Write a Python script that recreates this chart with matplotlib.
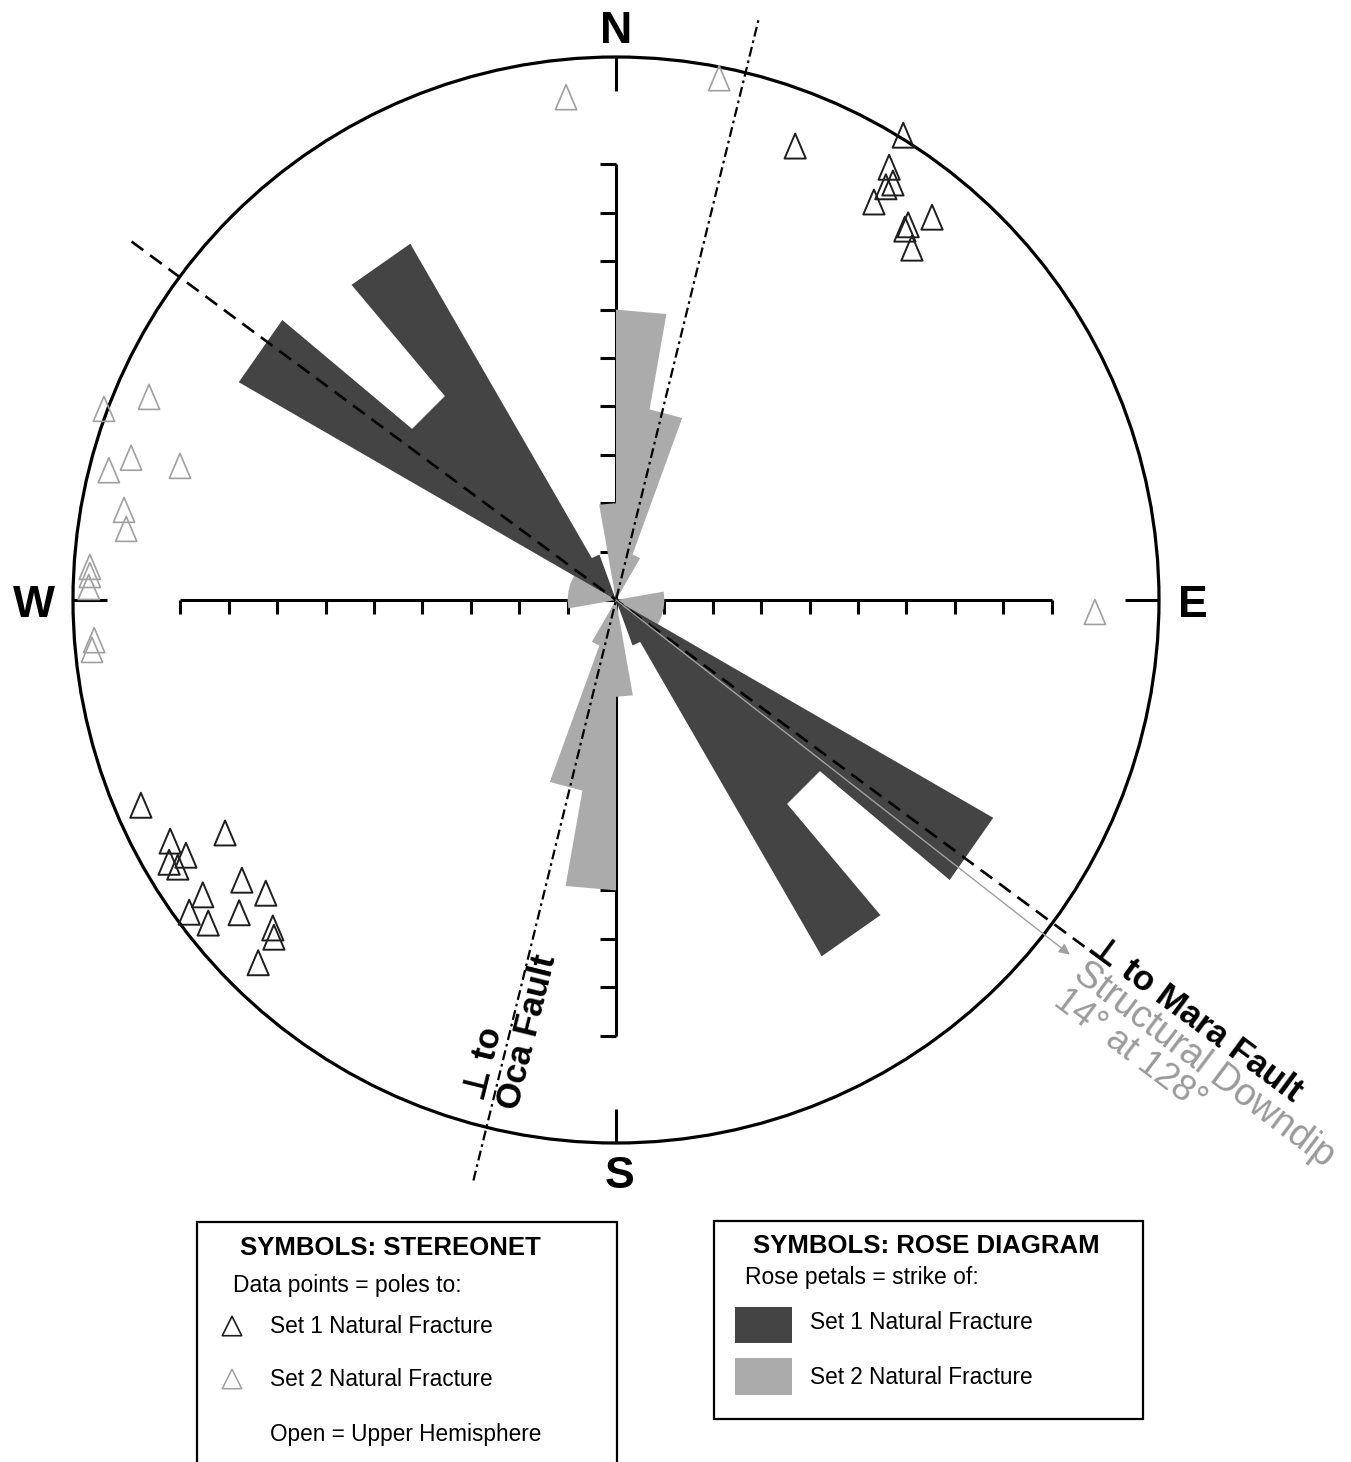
import numpy as np
import matplotlib
matplotlib.use("Agg")
import matplotlib.pyplot as plt
from matplotlib.patches import Polygon, Circle, Rectangle
from matplotlib.path import Path

plt.rcParams['font.family'] = ['Liberation Sans', 'DejaVu Sans']

# ---------------- data ----------------
# rose diagram: 10-degree strike bins (bidirectional), petal length in rose units
bin_start = np.arange(0, 180, 10)
set1_petals = [0, 0, 0, 0, 0, 0, 0, 0, 0, 0, 0, 0, 9, 5.5, 8.5, 1, 0, 0]
set2_petals = [6, 4, 1, 0, 0, 0, 0, 0, 1, 1, 1, 1, 0, 0, 0, 0, 0, 2]
bin_width = 10

# stereonet poles (east, north) as fraction of net radius
set1_east = [0.330, 0.529, 0.503, 0.510, 0.497, 0.475, 0.582, 0.538, 0.532, 0.545,
             -0.875, -0.720, -0.821, -0.792, -0.823, -0.807, -0.689, -0.761, -0.645,
             -0.786, -0.751, -0.694, -0.632, -0.630, -0.659]
set1_north = [0.836, 0.856, 0.797, 0.768, 0.761, 0.733, 0.705, 0.691, 0.683, 0.648,
              -0.378, -0.429, -0.444, -0.470, -0.483, -0.492, -0.516, -0.543, -0.540,
              -0.575, -0.595, -0.576, -0.604, -0.621, -0.668]
set2_east = [-0.092, 0.190, 0.882, -0.943, -0.860, -0.893, -0.934, -0.803, -0.906,
             -0.902, -0.969, -0.969, -0.971, -0.961, -0.965]
set2_north = [0.926, 0.961, -0.022, 0.352, 0.374, 0.262, 0.239, 0.247, 0.166,
              0.131, 0.061, 0.046, 0.024, -0.074, -0.092]

axis_ticks = [t for t in range(-9, 10) if t != 0]
cardinals = {'N': 0, 'E': 90, 'S': 180, 'W': 270}
mara_azimuth = 126.5
oca_azimuth = 13.8
downdip_azimuth = 128
downdip_plunge = 14

# ---------------- layout ----------------
W, H = 1351, 1462
CX, CY = 616, 600          # pixel position of net centre
PX = 48.4                  # pixels per rose unit
R = 543 / PX               # net radius in rose units
DARK = '#444444'
LIGHT = '#ababab'
GRAYTXT = '#9a9a9a'

fig = plt.figure(figsize=(W / 100, H / 100), dpi=100)
ax = fig.add_axes([0, 0, 1, 1])
ax.set_xlim(-CX / PX, (W - CX) / PX)
ax.set_ylim(-(H - CY) / PX, CY / PX)
ax.axis('off')


def P(x, y):
    return (x - CX) / PX, (CY - y) / PX


def unit(az):
    a = np.radians(az)
    return np.sin(a), np.cos(a)


# net circle
ax.add_patch(Circle((0, 0), R, fill=False, lw=2.3, ec='black', zorder=2))

# cardinal stubs and labels
for lab, az in cardinals.items():
    ux, uy = unit(az)
    ax.plot([ux * R, ux * (R - 0.7)], [uy * R, uy * (R - 0.7)], color='black',
            lw=2.2, solid_capstyle='butt', zorder=2)
lab_pos = {'N': (616, 43), 'E': (1193, 617), 'S': (620, 1188), 'W': (34, 617)}
for lab, (x, y) in lab_pos.items():
    ax.text(*P(x, y), lab, fontsize=32, fontweight='bold', ha='center', va='baseline')

# scale axes with ticks
ax.plot([-9, 9], [0, 0], color='black', lw=2.2, solid_capstyle='butt', zorder=2)
ax.plot([0, 0], [-9, 9], color='black', lw=2.2, solid_capstyle='butt', zorder=2)
ax.vlines(axis_ticks, -0.28, 0, color='black', lw=2.2, zorder=2)
ax.hlines(axis_ticks, -0.33, 0, color='black', lw=2.2, zorder=2)


# rose petals: flat-ended petals, contiguous bins merged into one polygon
def rose(values, color, z):
    full = list(values) + list(values)          # bidirectional -> 36 bins
    n = len(full)
    start = full.index(0)
    runs, cur = [], []
    for k in range(1, n + 1):
        i = (start + k) % n
        if full[i] > 0:
            cur.append(i)
        elif cur:
            runs.append(cur)
            cur = []
    if cur:
        runs.append(cur)
    for run in runs:
        verts = [(0, 0)]
        for i in run:
            a1 = i * bin_width
            for a in (a1, a1 + bin_width):
                ux, uy = unit(a)
                verts.append((full[i] * ux, full[i] * uy))
        ax.add_patch(Polygon(verts, closed=True, fc=color, ec='none', zorder=z))


rose(set2_petals, LIGHT, 3)
rose(set1_petals, DARK, 3.2)

# perpendicular to Mara Fault (dashed) and Oca Fault (dash-dot)
ux, uy = unit(mara_azimuth)
ax.plot([-12.45 * ux, 12.4 * ux], [-12.45 * uy, 12.4 * uy], color='black', lw=1.9,
        linestyle=(0, (5.5, 3.2)), zorder=4)
ux, uy = unit(oca_azimuth)
ax.plot([-12.35 * ux, 12.4 * ux], [-12.35 * uy, 12.4 * uy], color='black', lw=1.6,
        linestyle=(0, (4.5, 1.8, 1.2, 1.8)), zorder=4)

# structural downdip arrow
ux, uy = unit(downdip_azimuth)
ax.annotate('', xy=(11.9 * ux, 11.9 * uy), xytext=(0, 0),
            arrowprops=dict(arrowstyle='-|>', color='#a0a0a0', lw=1.0,
                            mutation_scale=16, shrinkA=0, shrinkB=0), zorder=4)

# poles
tri = Path([(0, 1), (-0.85, -1), (0.85, -1), (0, 1)], closed=True)
ax.scatter(np.array(set1_east) * R, np.array(set1_north) * R, s=18 ** 2, marker=tri,
           facecolors='none', edgecolors='#1e1e1e', linewidths=1.4, zorder=5)
ax.scatter(np.array(set2_east) * R, np.array(set2_north) * R, s=18 ** 2, marker=tri,
           facecolors='none', edgecolors='#a0a0a0', linewidths=1.2, zorder=5)

# annotations
rot_m = 90 - mara_azimuth
ax.text(*P(1086, 950), '\u22a5 to Mara Fault', fontsize=25, fontweight='bold',
        rotation=rot_m, rotation_mode='anchor', ha='left', va='baseline', zorder=6)
ax.text(*P(1072, 978), 'Structural Downdip', fontsize=27, color=GRAYTXT,
        rotation=rot_m - 0.5, rotation_mode='anchor', ha='left', va='baseline', zorder=6)
ax.text(*P(1052, 1004), f'{downdip_plunge}\u00b0 at {downdip_azimuth}\u00b0', fontsize=26,
        color=GRAYTXT, rotation=rot_m - 0.5, rotation_mode='anchor', ha='left',
        va='baseline', zorder=6)
rot_o = 90 - oca_azimuth
ax.text(*P(484, 1102), '\u22a5 to', fontsize=25, fontweight='bold',
        rotation=rot_o, rotation_mode='anchor', ha='left', va='baseline', zorder=6)
ax.text(*P(518, 1111), 'Oca Fault', fontsize=25, fontweight='bold',
        rotation=rot_o, rotation_mode='anchor', ha='left', va='baseline', zorder=6)


# ---------------- legend boxes ----------------
def box(x0, y0, x1, y1):
    (a, b), (c, d) = P(x0, y1), P(x1, y0)
    ax.add_patch(Rectangle((a, b), c - a, d - b, fill=False, ec='black', lw=1.6,
                           clip_on=False, zorder=2))


box(197, 1222, 617, 1520)
box(714, 1221, 1143, 1419)

ax.text(*P(390, 1255), 'SYMBOLS: STEREONET', fontsize=18.5, fontweight='bold',
        ha='center', va='baseline')
ax.text(*P(233, 1292), 'Data points = poles to:', fontsize=16.5, ha='left', va='baseline')
ax.text(*P(270, 1333), 'Set 1 Natural Fracture', fontsize=16.3, ha='left', va='baseline')
ax.text(*P(270, 1386), 'Set 2 Natural Fracture', fontsize=16.3, ha='left', va='baseline')
ax.text(*P(270, 1441), 'Open = Upper Hemisphere', fontsize=16.3, ha='left', va='baseline')
ax.scatter(*P(232, 1326), s=14 ** 2, marker='^', facecolors='none',
           edgecolors='#1e1e1e', linewidths=1.2, zorder=5)
ax.scatter(*P(232, 1379), s=14 ** 2, marker='^', facecolors='none',
           edgecolors='#a0a0a0', linewidths=1.1, zorder=5)

ax.text(*P(926, 1253), 'SYMBOLS: ROSE DIAGRAM', fontsize=18.5, fontweight='bold',
        ha='center', va='baseline')
ax.text(*P(745, 1284), 'Rose petals = strike of:', fontsize=16.5, ha='left', va='baseline')
ax.text(*P(810, 1329), 'Set 1 Natural Fracture', fontsize=16.3, ha='left', va='baseline')
ax.text(*P(810, 1384), 'Set 2 Natural Fracture', fontsize=16.3, ha='left', va='baseline')
for (y0, y1), col in (((1307, 1343), DARK), ((1358, 1395), LIGHT)):
    (a, b), (c, d) = P(735, y1), P(792, y0)
    ax.add_patch(Rectangle((a, b), c - a, d - b, fc=col, ec='none', zorder=2))

fig.savefig('out.png', dpi=100)
